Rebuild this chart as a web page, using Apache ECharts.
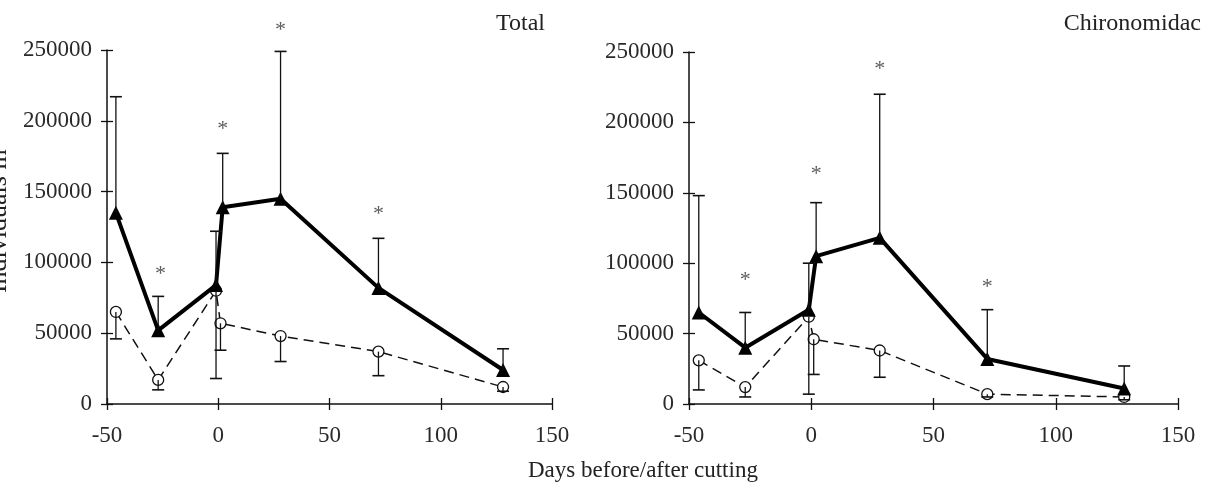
<!DOCTYPE html>
<html>
<head>
<meta charset="utf-8">
<script src="https://cdn.jsdelivr.net/npm/echarts@6/dist/echarts.min.js"></script>
<style>
  html, body { margin: 0; padding: 0; background: #fff; }
  #chart { width: 1209px; height: 484px; }
</style>
</head>
<body>
<div id="chart"></div>
<script>
// axis ticks
var xTicks = [-50, 0, 50, 100, 150];
var yTicks = [0, 50000, 100000, 150000, 200000, 250000];

// Total: cut (triangles, solid) and control (circles, dashed)
var totalCutDays = [-46, -27, -1, 2, 28, 72, 128];
var totalCut = [135000, 52000, 84000, 139000, 145000, 82000, 24000];
var totalCutUpper = [217000, 76000, 122000, 177000, 249000, 117000, 39000];
var totalCtrlDays = [-46, -27, -1, 1, 28, 72, 128];
var totalCtrl = [65000, 17000, 80000, 57000, 48000, 37000, 12000];
var totalCtrlLower = [46000, 10000, 18000, 38000, 30000, 20000, 9000];
var totalStars = [[-26, 92000], [2, 194000], [28, 264000], [72, 134000]];

// Chironomidae
var chiroCutDays = [-46, -27, -1, 2, 28, 72, 128];
var chiroCut = [65000, 40000, 67000, 105000, 118000, 32000, 11000];
var chiroCutUpper = [148000, 65000, 100000, 143000, 220000, 67000, 27000];
var chiroCtrlDays = [-46, -27, -1, 1, 28, 72, 128];
var chiroCtrl = [31000, 12000, 62000, 46000, 38000, 7000, 5000];
var chiroCtrlLower = [10000, 5000, 7000, 21000, 19000, 5000, 3000];
var chiroStars = [[-27, 88000], [2, 163000], [28, 238000], [72, 83000]];

var FONT = '"Liberation Serif", "DejaVu Serif", serif';

function zip(xs, ys) {
    return xs.map(function (x, i) { return [x, ys[i]]; });
}
function errData(xs, from, to) {
    return xs.map(function (x, i) { return [x, from[i], to[i]]; });
}

function renderErr(params, api) {
    var p0 = api.coord([api.value(0), api.value(1)]);
    var p1 = api.coord([api.value(0), api.value(2)]);
    var half = 6;
    return {
        type: 'group',
        children: [
            { type: 'line', shape: { x1: p0[0], y1: p0[1], x2: p1[0], y2: p1[1] },
              style: { stroke: '#111', lineWidth: 1.3 } },
            { type: 'line', shape: { x1: p1[0] - half, y1: p1[1], x2: p1[0] + half, y2: p1[1] },
              style: { stroke: '#111', lineWidth: 1.6 } }
        ]
    };
}

// inner=true gives a label-less copy whose ticks point inward, so ticks cross the axis line
function xAxisFor(gi, inner) {
    return {
        type: 'value', gridIndex: gi, position: 'bottom',
        min: xTicks[0], max: xTicks[xTicks.length - 1], interval: 50,
        axisLine: { show: !inner, onZero: false, lineStyle: { color: '#111', width: 1.5 } },
        axisTick: { show: true, inside: inner, length: 6, lineStyle: { color: '#111', width: 1.3 } },
        axisLabel: { show: !inner, margin: 20, fontFamily: FONT, fontSize: 23, color: '#2a2a2a',
                     formatter: function (v) { return String(v); } },
        splitLine: { show: false }
    };
}
function yAxisFor(gi, inner) {
    return {
        type: 'value', gridIndex: gi, position: 'left',
        min: yTicks[0], max: yTicks[yTicks.length - 1], interval: 50000,
        axisLine: { show: !inner, onZero: false, lineStyle: { color: '#111', width: 1.5 } },
        axisTick: { show: true, inside: inner, length: 6, lineStyle: { color: '#111', width: 1.3 } },
        axisLabel: { show: !inner, margin: 15, fontFamily: FONT, fontSize: 23, color: '#2a2a2a',
                     formatter: function (v) { return String(v); } },
        splitLine: { show: false }
    };
}

function panelSeries(gi, cutDays, cut, cutUp, ctrlDays, ctrl, ctrlLow, stars) {
    return [
        {
            type: 'line', xAxisIndex: gi, yAxisIndex: gi, z: 2,
            data: zip(ctrlDays, ctrl),
            lineStyle: { color: '#111', width: 1.5, type: [10, 6] },
            symbol: 'circle', symbolSize: 11,
            itemStyle: { color: '#fff', borderColor: '#111', borderWidth: 1.3 }
        },
        {
            type: 'line', xAxisIndex: gi, yAxisIndex: gi, z: 3,
            data: zip(cutDays, cut),
            lineStyle: { color: '#000', width: 4 },
            symbol: 'triangle', symbolSize: 14,
            itemStyle: { color: '#000' }
        },
        {
            type: 'custom', xAxisIndex: gi, yAxisIndex: gi, z: 4,
            renderItem: renderErr, encode: { x: 0, y: [1, 2] },
            data: errData(ctrlDays, ctrl, ctrlLow)
        },
        {
            type: 'custom', xAxisIndex: gi, yAxisIndex: gi, z: 4,
            renderItem: renderErr, encode: { x: 0, y: [1, 2] },
            data: errData(cutDays, cut, cutUp)
        },
        {
            type: 'scatter', xAxisIndex: gi, yAxisIndex: gi, z: 5, clip: false,
            data: stars, symbolSize: 1,
            itemStyle: { color: 'rgba(0,0,0,0)' },
            label: { show: true, position: 'inside', formatter: '*',
                     fontFamily: FONT, fontSize: 22, color: '#333' }
        }
    ];
}

var chart = echarts.init(document.getElementById('chart'));

var option = {
    animation: false,
    backgroundColor: '#fff',
    grid: [
        { left: 107, top: 50, width: 445, height: 354 },
        { left: 689, top: 52, width: 489, height: 352 }
    ],
    xAxis: [xAxisFor(0, false), xAxisFor(1, false), xAxisFor(0, true), xAxisFor(1, true)],
    yAxis: [yAxisFor(0, false), yAxisFor(1, false), yAxisFor(0, true), yAxisFor(1, true)],
    series: [].concat(
        panelSeries(0, totalCutDays, totalCut, totalCutUpper, totalCtrlDays, totalCtrl, totalCtrlLower, totalStars),
        panelSeries(1, chiroCutDays, chiroCut, chiroCutUpper, chiroCtrlDays, chiroCtrl, chiroCtrlLower, chiroStars)
    ),
    graphic: [
        { type: 'text', right: 1209 - 545, top: 12,
          style: { text: 'Total', fontFamily: FONT, fontSize: 24, fill: '#222' } },
        { type: 'text', right: 8, top: 12,
          style: { text: 'Chironomidac', fontFamily: FONT, fontSize: 24, fill: '#222' } },
        { type: 'text', left: 528, top: 459,
          style: { text: 'Days before/after cutting', fontFamily: FONT, fontSize: 23, fill: '#222' } },
        { type: 'text', x: 12, y: 215, rotation: Math.PI / 2,
          style: { text: 'Individuals m{s|-2}', fontFamily: FONT, fontSize: 26, fill: '#222',
                   align: 'center', verticalAlign: 'bottom',
                   rich: { s: { fontSize: 15, fontFamily: FONT, verticalAlign: 'top' } } } }
    ]
};

chart.setOption(option);
</script>
</body>
</html>
